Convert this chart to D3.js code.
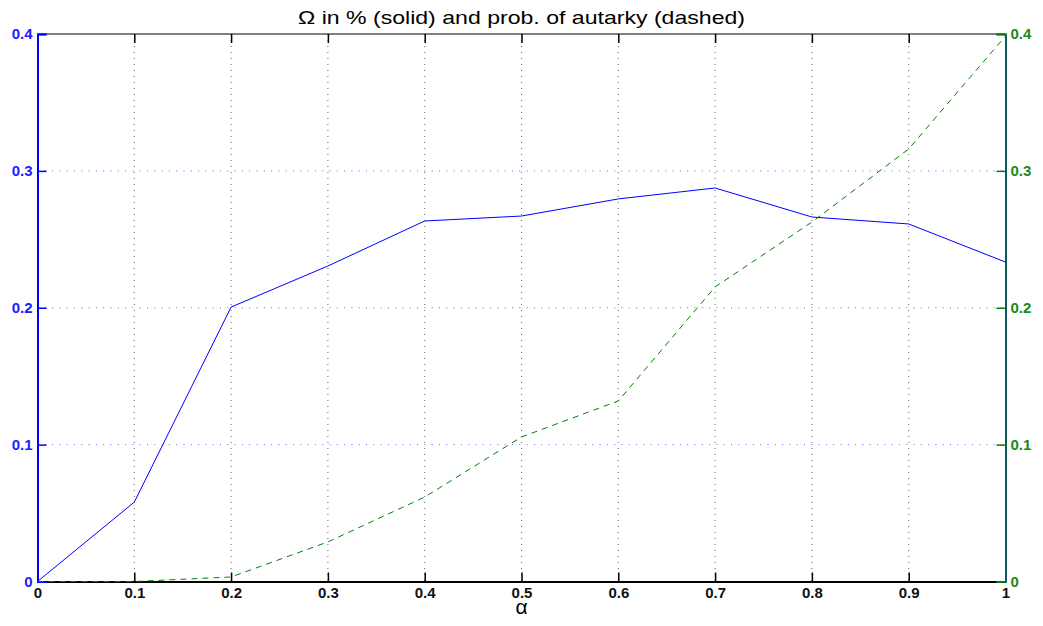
<!DOCTYPE html>
<html>
<head>
<meta charset="utf-8">
<script src="https://cdn.jsdelivr.net/npm/d3@7"></script>
<style>
  body { margin: 0; background: #fff; }
  svg { display: block; font-family: "Liberation Sans", Arial, sans-serif; }
</style>
</head>
<body>
<svg id="chart" width="1043" height="626"></svg>
<script>
// values
let alphas = [0, 0.1, 0.2, 0.3, 0.4, 0.5, 0.6, 0.7, 0.8, 0.9, 1.0];
let omega = [0, 0.058, 0.2005, 0.2305, 0.2634, 0.267, 0.2795, 0.2875, 0.2663, 0.2612, 0.2334];
let autarky = [0, 0, 0.0033, 0.0289, 0.0617, 0.1056, 0.1319, 0.2152, 0.2626, 0.316, 0.3985];
let xTicks = [0, 0.1, 0.2, 0.3, 0.4, 0.5, 0.6, 0.7, 0.8, 0.9, 1];
let yTicks = [0, 0.1, 0.2, 0.3, 0.4];

let blue = '#0000ff';
let green = '#008000';

let mLeft = 37.5, mRight = 1005.5, mTop = 34, mBottom = 581.5;

let chart = d3.select('#chart');

let x = d3.scaleLinear().domain([0, 1]).range([mLeft, mRight]);
let yL = d3.scaleLinear().domain([0, 0.4]).range([mBottom, mTop]);
let yR = d3.scaleLinear().domain([0, 0.4]).range([mBottom, mTop]);

// vertical grid (black dotted)
chart.append('g')
  .selectAll('line')
  .data(xTicks.slice(1, -1))
  .enter()
  .append('line')
  .attr('x1', d => x(d)).attr('x2', d => x(d))
  .attr('y1', mTop).attr('y2', mBottom)
  .style('stroke', '#000')
  .style('stroke-width', 1)
  .style('stroke-dasharray', '1,5')
  .style('opacity', 0.6);

// horizontal grid (blue dotted)
chart.append('g')
  .selectAll('line')
  .data(yTicks.slice(1, -1))
  .enter()
  .append('line')
  .attr('x1', mLeft).attr('x2', mRight)
  .attr('y1', d => yL(d)).attr('y2', d => yL(d))
  .style('stroke', blue)
  .style('stroke-width', 1)
  .style('stroke-dasharray', '1,6.3')
  .style('opacity', 0.6);

// box top
chart.append('line')
  .attr('x1', mLeft).attr('x2', mRight).attr('y1', mTop).attr('y2', mTop)
  .style('stroke', '#000').style('stroke-width', 1);

// bottom x axis
let xAxis = d3.axisBottom(x).tickValues(xTicks).tickSize(-9).tickPadding(6)
  .tickFormat(d => d3.format('')(d));
let gx = chart.append('g')
  .attr('transform', `translate(0,${mBottom})`)
  .call(xAxis);
gx.select('.domain').style('stroke', '#000').style('stroke-width', 2);
gx.selectAll('.tick line').style('stroke', '#000').style('stroke-width', 1.5);
gx.selectAll('text')
  .attr('fill', '#111')
  .style('font-size', '15px')
  .style('font-weight', 'bold');

// top ticks
let xTop = d3.axisTop(x).tickValues(xTicks).tickSize(-9).tickFormat('');
let gt = chart.append('g')
  .attr('transform', `translate(0,${mTop})`)
  .call(xTop);
gt.select('.domain').remove();
gt.selectAll('.tick line').style('stroke', '#000').style('stroke-width', 1.5);

// left axis
let gl = chart.append('g')
  .attr('transform', `translate(${mLeft},0)`)
  .call(d3.axisLeft(yL).tickValues(yTicks).tickSize(-9).tickPadding(5)
    .tickFormat(d => d3.format('')(d)));
gl.select('.domain').style('stroke', blue).style('stroke-width', 2);
gl.selectAll('.tick line').style('stroke', blue).style('stroke-width', 1.5);
gl.selectAll('text')
  .attr('fill', '#2020ff')
  .style('font-size', '15px')
  .style('font-weight', 'bold');

// right axis
let gr = chart.append('g')
  .attr('transform', `translate(${mRight},0)`)
  .call(d3.axisRight(yR).tickValues(yTicks).tickSize(-9).tickPadding(5)
    .tickFormat(d => d3.format('')(d)));
gr.select('.domain').style('stroke', '#0b5a60').style('stroke-width', 2);
gr.selectAll('.tick line').style('stroke', green).style('stroke-width', 1.5);
gr.selectAll('text')
  .attr('fill', '#1a8a1a')
  .style('font-size', '15px')
  .style('font-weight', 'bold');

// lines
let lineL = d3.line().x((d, i) => x(alphas[i])).y(d => yL(d));
let lineR = d3.line().x((d, i) => x(alphas[i])).y(d => yR(d));

chart.append('path')
  .datum(autarky)
  .attr('d', lineR)
  .style('fill', 'none')
  .style('stroke', green)
  .style('stroke-width', 1)
  .style('stroke-dasharray', '6,5');

chart.append('path')
  .datum(omega)
  .attr('d', lineL)
  .style('fill', 'none')
  .style('stroke', blue)
  .style('stroke-width', 1);

// title and x label
chart.append('text')
  .attr('x', (mLeft + mRight) / 2)
  .attr('y', 24)
  .attr('text-anchor', 'middle')
  .attr('textLength', 447)
  .attr('lengthAdjust', 'spacingAndGlyphs')
  .style('font-size', '19px')
  .text('\u03A9 in % (solid) and prob. of autarky (dashed)');

chart.append('text')
  .attr('x', x(0.5))
  .attr('y', 614)
  .attr('text-anchor', 'middle')
  .style('font-size', '21px')
  .text('\u03B1');
</script>
</body>
</html>
